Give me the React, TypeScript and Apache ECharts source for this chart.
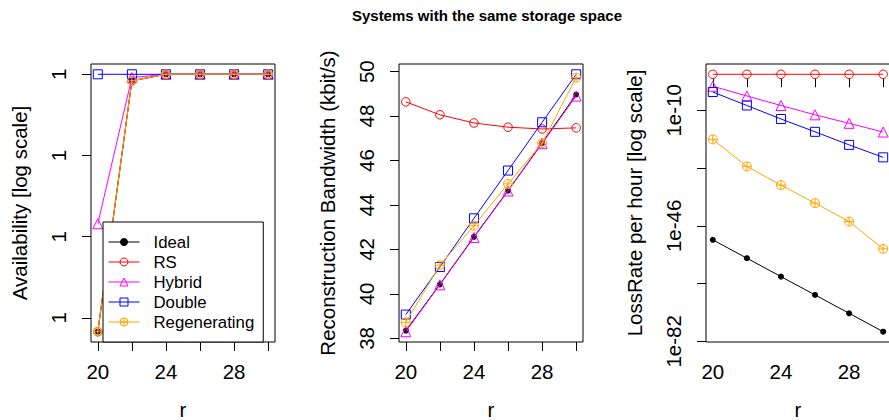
import React, { useEffect, useRef } from "react";
import * as echarts from "echarts";

// ---------- data ----------
const rValues = [20, 22, 24, 26, 28, 30];
const xTickValues = [20, 22, 24, 26, 28, 30];
const xLabelValues = [20, 24, 28];

const seriesNames = ["Ideal", "RS", "Hybrid", "Double", "Regenerating"];

// Panel 1: availability (log scale, every tick prints as "1")
const availIdeal = [0.99999683, 0.99999992, 1, 1, 1, 1];
const availRS = [0.99999683, 0.99999992, 1, 1, 1, 1];
const availHybrid = [0.99999816, 0.99999996, 1, 1, 1, 1];
const availDouble = [1, 1, 1, 1, 1, 1];
const availRegen = [0.99999683, 0.99999992, 1, 1, 1, 1];
const availTickValues = [0.999997, 0.999998, 0.999999, 1];
const availTickLabel = "1";

// Panel 2: reconstruction bandwidth (kbit/s)
const bwIdeal = [38.35, 40.43, 42.57, 44.65, 46.79, 48.97];
const bwRS = [48.64, 48.06, 47.69, 47.5, 47.42, 47.47];
const bwHybrid = [38.3, 40.41, 42.54, 44.63, 46.76, 48.9];
const bwDouble = [39.07, 41.21, 43.4, 45.55, 47.72, 49.88];
const bwRegen = [38.72, 41.29, 43.07, 44.95, 46.79, 49.73];
const bwTickValues = [38, 40, 42, 44, 46, 48, 50];

// Panel 3: loss rate per hour (log scale)
const lossIdeal = [4.3e-51, 8.1e-57, 1.5e-62, 2.9e-68, 5.5e-74, 1.0e-79];
const lossRS = [17, 17, 17, 17, 17, 17];
const lossHybrid = [3.1e-3, 3.0e-6, 3.2e-9, 4.0e-12, 8.9e-15, 1.7e-17];
const lossDouble = [5.0e-5, 3.2e-9, 2.0e-13, 2.0e-17, 1.7e-21, 2.2e-25];
const lossRegen = [8.9e-20, 3.3e-28, 4.9e-34, 1.2e-39, 2.2e-45, 6.6e-54];
const lossTickExponents = [-10, -28, -46, -64, -82];
const lossLabelExponents = [-10, -46, -82];

const titleText = "Systems with the same storage space";
const xName = "r";
const yNames = [
  "Availability [log scale]",
  "Reconstruction Bandwidth (kbit/s)",
  "LossRate per hour [log scale]",
];

// ---------- styles ----------
const FONT = "Liberation Sans, Arial, Helvetica, sans-serif";
const colors = ["#000000", "#FF0000", "#FF00FF", "#0000FF", "#FFA500"];
const CROSS_CIRCLE =
  "path://M10,0A10,10,0,1,1,-10,0A10,10,0,1,1,10,0ZM-10,0L10,0M0,-10L0,10";
const seriesSymbols = ["circle", "circle", "triangle", "rect", CROSS_CIRCLE];
const symbolSizes = [6, 8.5, 10, 9, 9];
const openSymbol = [false, true, true, true, true];

const gridLefts = [91, 399, 706];
const GRID_TOP = 64;
const GRID_W = 184;
const GRID_H = 278;

function padRange(vals: number[]): [number, number] {
  const lo = Math.min(...vals);
  const hi = Math.max(...vals);
  const d = (hi - lo) * 0.04;
  return [lo - d, hi + d];
}

function buildOption() {
  const panels = [
    [availIdeal, availRS, availHybrid, availDouble, availRegen],
    [bwIdeal, bwRS, bwHybrid, bwDouble, bwRegen],
    [lossIdeal, lossRS, lossHybrid, lossDouble, lossRegen].map((arr) =>
      arr.map((v) => Math.log10(v))
    ),
  ];
  const xRange = padRange(rValues);
  const axisText = { fontSize: 20.5, color: "#000", fontFamily: FONT };

  const grid = gridLefts.map((l) => ({
    left: l,
    top: GRID_TOP,
    width: GRID_W,
    height: GRID_H,
    show: true,
    borderColor: "#000",
    borderWidth: 1,
    backgroundColor: "transparent",
    containLabel: false,
    outerBoundsMode: "none",
  }));

  const xAxis = gridLefts.map((_, i) => ({
    type: "value",
    gridIndex: i,
    min: xRange[0],
    max: xRange[1],
    axisLine: { show: false },
    splitLine: { show: false },
    axisTick: {
      show: true,
      length: 9,
      lineStyle: { color: "#000", width: 1 },
      customValues: xTickValues,
    },
    axisLabel: { ...axisText, margin: 19, customValues: xLabelValues },
    name: xName,
    nameLocation: "middle",
    nameGap: 57,
    nameMoveOverlap: false,
    nameTextStyle: { ...axisText, lineHeight: 20 },
  }));

  const yTickSets = [availTickValues, bwTickValues, lossTickExponents];
  const yLabelSets = [availTickValues, bwTickValues, lossLabelExponents];
  const yFormatters = [
    () => availTickLabel,
    (v: number) => String(Math.round(v)),
    (v: number) => "1e" + Math.round(v),
  ];

  const yAxis = panels.map((p, i) => {
    const rng = padRange(p.flat());
    return {
      type: "value",
      gridIndex: i,
      min: rng[0],
      max: rng[1],
      axisLine: { show: false },
      splitLine: { show: false },
      axisTick: {
        show: true,
        length: 9,
        lineStyle: { color: "#000", width: 1 },
        customValues: yTickSets[i],
      },
      axisLabel: {
        ...axisText,
        rotate: 90,
        margin: 22,
        customValues: yLabelSets[i],
        formatter: yFormatters[i],
      },
      name: yNames[i],
      nameLocation: "middle",
      nameGap: 61,
      nameMoveOverlap: false,
      nameTextStyle: { ...axisText },
    };
  });

  const series: any[] = [];
  panels.forEach((p, gi) => {
    p.forEach((vals, si) => {
      series.push({
        type: "line",
        name: seriesNames[si],
        xAxisIndex: gi,
        yAxisIndex: gi,
        data: rValues.map((r, k) => [r, vals[k]]),
        symbol: seriesSymbols[si],
        symbolSize: symbolSizes[si],
        showSymbol: true,
        showAllSymbol: true,
        lineStyle: { color: colors[si], width: 1 },
        itemStyle: {
          color: openSymbol[si] ? "rgba(0,0,0,0)" : colors[si],
          borderColor: colors[si],
          borderWidth: openSymbol[si] ? 1 : 0,
        },
        emphasis: { disabled: true },
        z: 2 + si * 0.01,
      });
    });
  });

  return {
    animation: false,
    backgroundColor: "#fff",
    title: {
      text: titleText,
      left: 487,
      top: 8,
      padding: 0,
      textAlign: "center",
      textStyle: {
        fontSize: 15,
        fontWeight: "bold",
        color: "#000",
        fontFamily: FONT,
      },
    },
    legend: {
      orient: "vertical",
      left: 103,
      top: 222,
      padding: [10, 9, 10, 5],
      itemWidth: 31,
      itemHeight: 10,
      itemGap: 0,
      backgroundColor: "#fff",
      borderColor: "#000",
      borderWidth: 1,
      borderRadius: 0,
      selectedMode: false,
      lineStyle: { width: 1 },
      data: seriesNames.map((n, i) => ({
        name: n,
        itemStyle: { borderWidth: openSymbol[i] ? 1 : 0 },
      })),
      textStyle: {
        fontSize: 16.8,
        color: "#000",
        fontFamily: FONT,
        lineHeight: 20,
        padding: [0, 0, 0, 9],
      },
    },
    grid,
    xAxis,
    yAxis,
    series,
  };
}

export default function App() {
  const ref = useRef<HTMLDivElement>(null);
  useEffect(() => {
    if (!ref.current) return;
    const chart = echarts.init(ref.current, null, { renderer: "svg" });
    chart.setOption(buildOption() as any);
    return () => {
      chart.dispose();
    };
  }, []);
  return (
    <div
      ref={ref}
      style={{
        position: "absolute",
        left: 0,
        top: 0,
        width: 889,
        height: 420,
        background: "#fff",
      }}
    />
  );
}
